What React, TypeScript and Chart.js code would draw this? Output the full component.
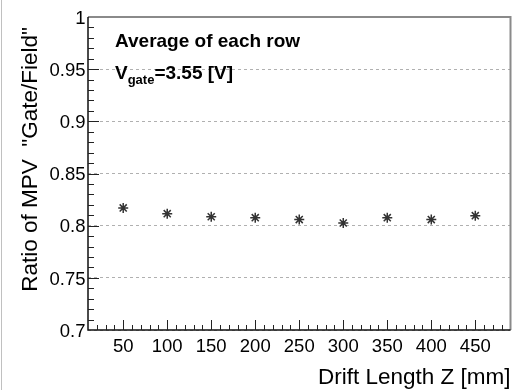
import React, { useEffect, useRef } from "react";
import { Chart, registerables } from "chart.js";

Chart.register(...registerables);

const driftZ = [50, 100, 150, 200, 250, 300, 350, 400, 450];
const mpvRatio = [0.817, 0.8115, 0.8086, 0.8077, 0.8058, 0.8026, 0.8077, 0.8058, 0.8096];
const xTicks = [50, 100, 150, 200, 250, 300, 350, 400, 450];
const xTickLabels = ["50", "100", "150", "200", "250", "300", "350", "400", "450"];
const yTicks = [0.7, 0.75, 0.8, 0.85, 0.9, 0.95, 1];
const yTickLabels = ["0.7", "0.75", "0.8", "0.85", "0.9", "0.95", "1"];
const xRange = [10, 490];
const yRange = [0.7, 1.0];
const xMinorStep = 10;
const yMinorStep = 0.01;
const xTitle = "Drift Length Z [mm]";
const yTitle = "Ratio of MPV  \"Gate/Field\"";
const statLine1 = "Average of each row";
const statV = "V";
const statSub = "gate";
const statRest = "=3.55 [V]";

const FONT = "'Liberation Sans', Arial, Helvetica, sans-serif";

const rootPlugin = {
  id: "rootStyle",
  afterDraw(chart: any) {
    const ctx = chart.ctx as CanvasRenderingContext2D;
    const { left, right, top, bottom } = chart.chartArea;
    const xs = chart.scales.x;
    const ys = chart.scales.y;
    ctx.save();

    // outer left border line
    ctx.strokeStyle = "#c0c0c0";
    ctx.lineWidth = 1;
    ctx.beginPath();
    ctx.moveTo(1.5, 0);
    ctx.lineTo(1.5, chart.height);
    ctx.stroke();

    // top & right frame (gray)
    ctx.strokeStyle = "#8a8a8a";
    ctx.lineWidth = 2;
    ctx.beginPath();
    ctx.moveTo(left, top);
    ctx.lineTo(right, top);
    ctx.lineTo(right, bottom);
    ctx.stroke();

    // left & bottom axes (black)
    ctx.strokeStyle = "#111";
    ctx.lineWidth = 1.5;
    ctx.beginPath();
    ctx.moveTo(left, top);
    ctx.lineTo(left, bottom);
    ctx.lineTo(right, bottom);
    ctx.stroke();

    // ticks
    ctx.lineWidth = 1;
    ctx.strokeStyle = "#222";
    ctx.beginPath();
    for (let v = xRange[0] + xMinorStep; v < xRange[1] - 1e-6; v += xMinorStep) {
      const px = Math.round(xs.getPixelForValue(v)) + 0.5;
      const major = xTicks.some((t) => Math.abs(t - v) < 1e-6);
      ctx.moveTo(px, bottom);
      ctx.lineTo(px, bottom - (major ? 10 : 5));
    }
    const nY = Math.round((yRange[1] - yRange[0]) / yMinorStep);
    for (let i = 1; i < nY; i++) {
      const v = yRange[0] + i * yMinorStep;
      const py = Math.round(ys.getPixelForValue(v)) + 0.5;
      const major = yTicks.some((t) => Math.abs(t - v) < 1e-6);
      ctx.moveTo(left, py);
      ctx.lineTo(left + (major ? 11 : 6), py);
    }
    ctx.stroke();

    // tick labels
    ctx.fillStyle = "#000";
    ctx.font = `18.5px ${FONT}`;
    ctx.textAlign = "center";
    ctx.textBaseline = "alphabetic";
    xTicks.forEach((t, i) => {
      ctx.fillText(xTickLabels[i], xs.getPixelForValue(t), bottom + 21.5);
    });
    ctx.textAlign = "right";
    yTicks.forEach((t, i) => {
      ctx.fillText(yTickLabels[i], left - 2.5, ys.getPixelForValue(t) + 6.7);
    });

    // axis titles
    ctx.font = `22.5px ${FONT}`;
    ctx.textAlign = "right";
    ctx.fillText(xTitle, right, 383.5);
    ctx.save();
    ctx.translate(37, 27);
    ctx.rotate(-Math.PI / 2);
    ctx.textAlign = "right";
    ctx.fillText(yTitle, 0, 0);
    ctx.restore();

    // stats text
    ctx.textAlign = "left";
    ctx.font = `bold 19px ${FONT}`;
    ctx.fillText(statLine1, 115, 46.5);
    ctx.fillText(statV, 115, 78.5);
    let x = 115 + ctx.measureText(statV).width;
    ctx.font = `bold 13px ${FONT}`;
    ctx.fillText(statSub, x, 83.5);
    x += ctx.measureText(statSub).width;
    ctx.font = `bold 19px ${FONT}`;
    ctx.fillText(statRest, x, 78.5);

    ctx.restore();
  },
};

export default function App() {
  const ref = useRef<HTMLCanvasElement | null>(null);
  useEffect(() => {
    if (!ref.current) return;
    const chart = new Chart(ref.current, {
      type: "scatter",
      data: {
        datasets: [
          {
            data: driftZ.map((x, i) => ({ x, y: mpvRatio[i] })),
            pointStyle: "star",
            pointRadius: 5,
            pointBorderWidth: 1.5,
            borderColor: "#333",
            backgroundColor: "#333",
            showLine: false,
          },
        ],
      },
      options: {
        responsive: false,
        animation: false,
        layout: { padding: { top: 17, right: 5, left: 0, bottom: 0 } },
        plugins: { legend: { display: false }, tooltip: { enabled: false } },
        scales: {
          x: {
            type: "linear",
            min: xRange[0],
            max: xRange[1],
            afterBuildTicks: (s: any) => {
              s.ticks = xTicks.map((v) => ({ value: v }));
            },
            afterFit: (s: any) => {
              s.height = 60;
            },
            ticks: { display: false },
            grid: { display: false, drawTicks: false },
            border: { display: false },
          },
          y: {
            type: "linear",
            min: yRange[0],
            max: yRange[1],
            afterBuildTicks: (s: any) => {
              s.ticks = yTicks.map((v) => ({ value: v }));
            },
            afterFit: (s: any) => {
              s.width = 88;
            },
            ticks: { display: false },
            grid: {
              display: true,
              drawTicks: false,
              color: "#b0b0b0",
              lineWidth: 1,
            },
            border: { display: false, dash: [3, 3] },
          },
        },
      },
      plugins: [rootPlugin],
    });
    return () => chart.destroy();
  }, []);
  return (
    <div style={{ position: "fixed", left: 0, top: 0, width: 517, height: 390, background: "#fff" }}>
      <canvas ref={ref} width={517} height={390} style={{ display: "block", width: 517, height: 390 }} />
    </div>
  );
}
